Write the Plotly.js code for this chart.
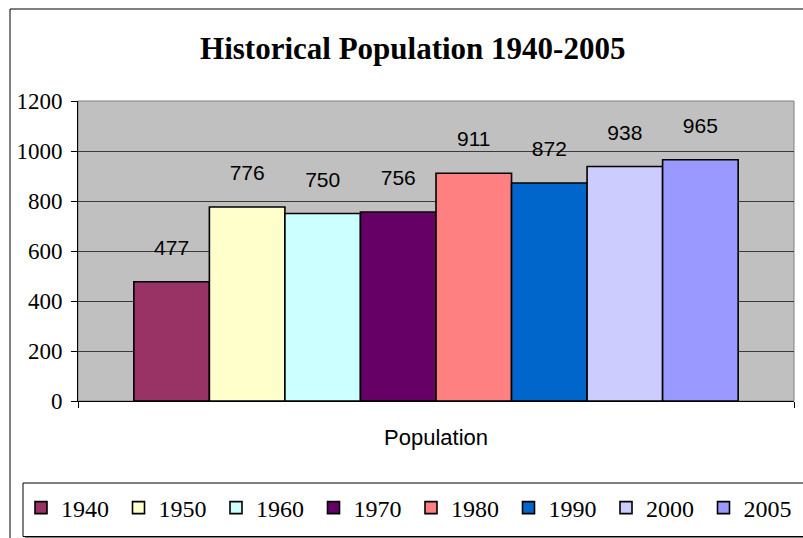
<!DOCTYPE html>
<html>
<head>
<meta charset="utf-8">
<script src="https://cdn.plot.ly/plotly-3.0.1.min.js"></script>
<style>
  html, body { margin: 0; padding: 0; background: #fff; }
  #chart { width: 803px; height: 538px; }
</style>
</head>
<body>
<div id="chart"></div>
<script>
const category = ['Population'];
const years = ['1940', '1950', '1960', '1970', '1980', '1990', '2000', '2005'];
const values = [477, 776, 750, 756, 911, 872, 938, 965];
const colors = ['#993366', '#FFFFCC', '#CCFFFF', '#660066', '#FF8080', '#0066CC', '#CCCCFF', '#9999FF'];
const yTicks = [0, 200, 400, 600, 800, 1000, 1200];

const SERIF = 'Liberation Serif';
const SANS = 'Liberation Sans';

const traces = years.map((yr, i) => ({
  type: 'bar',
  name: yr,
  x: category,
  y: [values[i]],
  text: [`<span style="font-size:21px">${values[i]}</span><br>\u00a0`],
  textposition: 'outside',
  textfont: { family: SANS, size: 16, color: '#000' },
  constraintext: 'none',
  cliponaxis: false,
  hoverinfo: 'skip',
  marker: { color: colors[i], line: { color: '#000', width: 1.6 } }
}));

const px = (p) => (p - 78) / 716;     // helper for decoration positions only
const py = (p) => (401 - p) / 300;

const layout = {
  width: 803, height: 538,
  margin: { l: 78, r: 9, t: 101, b: 137, autoexpand: false },
  paper_bgcolor: '#ffffff',
  plot_bgcolor: '#C0C0C0',
  barmode: 'group',
  bargap: 0.156,
  bargroupgap: 0,
  showlegend: true,
  title: {
    text: '<b>Historical Population 1940-2005</b>',
    font: { family: SERIF, size: 31, color: '#000' },
    xref: 'container', x: 0.514, xanchor: 'center',
    yref: 'container', y: 1 - 48 / 538, yanchor: 'middle'
  },
  xaxis: {
    type: 'category',
    showline: true, linecolor: '#000', linewidth: 1,
    ticks: 'outside', ticklen: 6, tickcolor: '#000', tickson: 'boundaries',
    ticklabelstandoff: 17,
    tickfont: { family: SANS, size: 22, color: '#000' },
    showgrid: false, zeroline: false, fixedrange: true
  },
  yaxis: {
    range: [0, 1200],
    tickvals: yTicks,
    ticktext: yTicks.map(String),
    showline: true, linecolor: '#000', linewidth: 1,
    ticks: 'outside', ticklen: 6, tickcolor: '#000',
    ticklabelstandoff: 4,
    tickfont: { family: SERIF, size: 23, color: '#000' },
    showgrid: true, gridcolor: '#3a3a3a', gridwidth: 1,
    zeroline: false, fixedrange: true
  },
  legend: {
    orientation: 'h',
    xref: 'paper', x: px(21), xanchor: 'left',
    yref: 'paper', y: py(508), yanchor: 'middle',
    font: { family: SERIF, size: 24, color: '#000' },
    bgcolor: 'rgba(0,0,0,0)',
    borderwidth: 0,
    itemclick: false, itemdoubleclick: false,
    entrywidth: 52.5, entrywidthmode: 'pixels',
    traceorder: 'normal'
  },
  shapes: [
    { type: 'rect', xref: 'paper', yref: 'paper', x0: 0, x1: 1, y0: 0, y1: 1,
      line: { color: '#808080', width: 1 }, layer: 'below' },
    { type: 'rect', xref: 'paper', yref: 'paper', x0: px(10), x1: px(840), y0: py(580), y1: py(9),
      line: { color: '#000', width: 1 }, fillcolor: 'rgba(0,0,0,0)', layer: 'below' },
    { type: 'line', xref: 'paper', yref: 'paper', x0: px(25), x1: px(840), y0: py(538), y1: py(538),
      line: { color: '#808080', width: 3 } },
    { type: 'rect', xref: 'paper', yref: 'paper', x0: px(23), x1: px(840), y0: py(536.5), y1: py(483),
      line: { color: '#000', width: 1 }, fillcolor: 'rgba(0,0,0,0)' }
  ]
};

Plotly.newPlot('chart', traces, layout, { displayModeBar: false, staticPlot: true });
</script>
</body>
</html>
